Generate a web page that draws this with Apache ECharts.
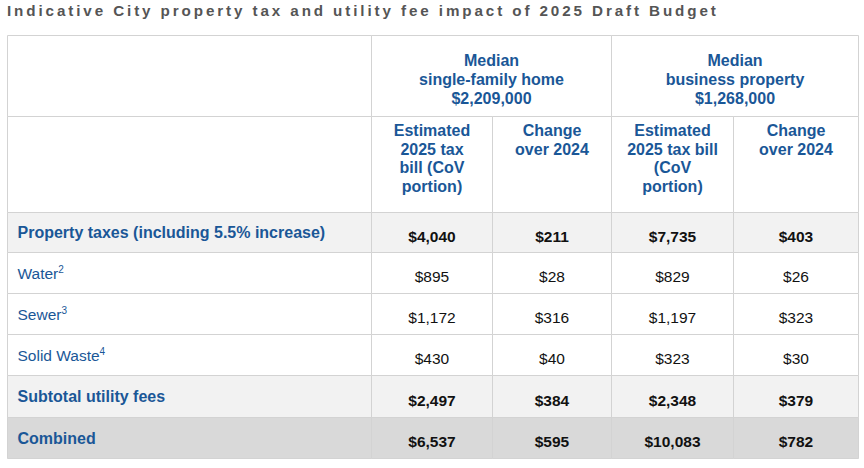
<!DOCTYPE html>
<html><head><meta charset="utf-8">
<script src="https://cdn.jsdelivr.net/npm/echarts@6/dist/echarts.min.js"></script>
<style>
html,body{margin:0;padding:0;background:#fff;}
#c{width:864px;height:468px;}
</style></head><body><div id="c"></div>
<script>
// ---- data ----
const title = 'Indicative City property tax and utility fee impact of 2025 Draft Budget';
const groupHeaders = ['Median\nsingle-family home\n$2,209,000', 'Median\nbusiness property\n$1,268,000'];
const columnHeaders = ['Estimated\n2025 tax\nbill (CoV\nportion)', 'Change\nover 2024', 'Estimated\n2025 tax bill\n(CoV\nportion)', 'Change\nover 2024'];
const rowLabels = ['Property taxes (including 5.5% increase)', 'Water', 'Sewer', 'Solid Waste', 'Subtotal utility fees', 'Combined'];
const footnotes = ['', '2', '3', '4', '', ''];
const homeTaxBill = [4040, 895, 1172, 430, 2497, 6537];
const homeChange = [211, 28, 316, 40, 384, 595];
const businessTaxBill = [7735, 829, 1197, 323, 2348, 10083];
const businessChange = [403, 26, 323, 30, 379, 782];

// ---- layout & style ----
const BLUE = '#1a5797', BLACK = '#111111', BORDER = '#d3d3d3';
const FONT = '"Liberation Sans", Arial, Helvetica, sans-serif';
const rowFill = ['#f2f2f2', '#ffffff', '#ffffff', '#ffffff', '#f2f2f2', '#d9d9d9'];
const rowBold = [true, false, false, false, true, true];
const colEdges = [0, 363.5, 485, 603.5, 726, 851];
const rowEdges = [0, 81, 176.7, 217.3, 258.3, 299.3, 340, 381.7, 423.3];

// title letter spacing so that it spans the same width as the reference
const TITLE_SIZE = 15.2, TITLE_WIDTH = 709;
(function () {
  const ctx = document.createElement('canvas').getContext('2d');
  ctx.font = 'bold ' + TITLE_SIZE + 'px "Liberation Sans"';
  const w = ctx.measureText(title).width;
  const ls = Math.max(0, (TITLE_WIDTH - w) / (title.length - 1));
  const s = document.createElement('style');
  s.textContent = '#c text[style*="' + TITLE_SIZE + 'px"]{letter-spacing:' + ls.toFixed(2) + 'px;}';
  document.head.appendChild(s);
})();

const fmt = v => '$' + v.toLocaleString('en-US');
const cells = [];
cells.push({c: [0, 1], r: [0, 1], text: '', kind: 'blank'});
cells.push({c: [1, 3], r: [0, 1], text: groupHeaders[0], kind: 'group'});
cells.push({c: [3, 5], r: [0, 1], text: groupHeaders[1], kind: 'group'});
cells.push({c: [0, 1], r: [1, 2], text: '', kind: 'blank'});
columnHeaders.forEach((t, i) => cells.push({c: [i + 1, i + 2], r: [1, 2], text: t, kind: 'colhead'}));
const valueCols = [homeTaxBill, homeChange, businessTaxBill, businessChange];
rowLabels.forEach((lab, i) => {
  const r = [i + 2, i + 3];
  cells.push({c: [0, 1], r, text: footnotes[i] ? lab + '{sup|' + footnotes[i] + '}' : lab, kind: 'label', row: i});
  valueCols.forEach((arr, j) => cells.push({c: [j + 1, j + 2], r, text: fmt(arr[i]), kind: 'value', row: i}));
});

const chart = echarts.init(document.getElementById('c'), null, {renderer: 'svg'});
chart.setOption({
  animation: false,
  backgroundColor: '#ffffff',
  title: {
    text: title, left: 2, top: -2,
    textStyle: {fontFamily: FONT, fontSize: TITLE_SIZE, fontWeight: 'bold', color: '#555555'}
  },
  grid: {left: 7, top: 35, width: 851, height: 423.3},
  xAxis: {type: 'value', min: 0, max: 851, show: false},
  yAxis: {type: 'value', min: 0, max: 423.3, inverse: true, show: false},
  series: [{
    type: 'custom',
    encode: {x: [0, 1], y: [2, 3]},
    data: cells.map((c, i) => [colEdges[c.c[0]], colEdges[c.c[1]], rowEdges[c.r[0]], rowEdges[c.r[1]], i]),
    renderItem: function (params, api) {
      const p0 = api.coord([api.value(0), api.value(2)]);
      const p1 = api.coord([api.value(1), api.value(3)]);
      const x0 = Math.round(p0[0]) + 0.5, y0 = Math.round(p0[1]) + 0.5;
      const x1 = Math.round(p1[0]) + 0.5, y1 = Math.round(p1[1]) + 0.5;
      const cell = cells[api.value(4)];
      const fill = cell.row !== undefined ? rowFill[cell.row] : '#ffffff';
      const children = [{
        type: 'rect',
        shape: {x: x0, y: y0, width: x1 - x0, height: y1 - y0},
        style: {fill: fill, stroke: BORDER, lineWidth: 1}
      }];
      if (cell.text) {
        const cx = (x0 + x1) / 2, cy = (y0 + y1) / 2;
        let st = {text: cell.text, fontFamily: FONT, fontSize: 16, fontWeight: 'bold', fill: BLUE,
                  align: 'center', textAlign: 'center', verticalAlign: 'middle', textVerticalAlign: 'middle',
                  x: cx, y: cy};
        if (cell.kind === 'group') {
          st.lineHeight = 18.7; st.y = cy + 3.5;
        } else if (cell.kind === 'colhead') {
          st.lineHeight = 18.7; st.y = y0 + 4.5; st.verticalAlign = st.textVerticalAlign = 'top';
        } else if (cell.kind === 'label') {
          st.x = x0 + 10; st.align = st.textAlign = 'left';
          const bold = rowBold[cell.row];
          st.fontWeight = bold ? 'bold' : 'normal';
          st.fontSize = bold ? 16 : 15.5;
          st.y = cy;
          st.lineHeight = 18;
          st.rich = {sup: {fontSize: 10, fontFamily: FONT, fill: BLUE, verticalAlign: 'top', lineHeight: 18}};
        } else if (cell.kind === 'value') {
          st.fill = BLACK;
          st.fontSize = 15.5;
          st.fontWeight = rowBold[cell.row] ? 'bold' : 'normal';
          st.y = cy + 3.5;
        }
        children.push({type: 'text', style: st});
      }
      return {type: 'group', children: children};
    }
  }]
});
</script></body></html>
